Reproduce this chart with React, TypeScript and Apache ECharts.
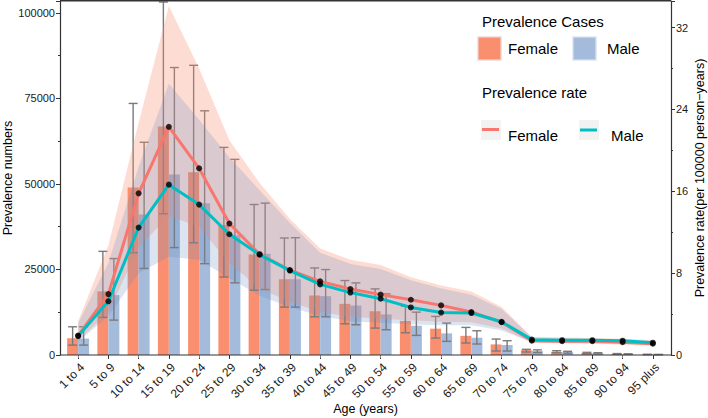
import React, { useEffect, useRef } from "react";
import * as echarts from "echarts";

const categories = [
  "1 to 4", "5 to 9", "10 to 14", "15 to 19", "20 to 24", "25 to 29", "30 to 34",
  "35 to 39", "40 to 44", "45 to 49", "50 to 54", "55 to 59", "60 to 64", "65 to 69",
  "70 to 74", "75 to 79", "80 to 84", "85 to 89", "90 to 94", "95 plus",
];

// Prevalence cases (left axis)
const femaleCases = [4900, 18600, 49000, 66800, 53400, 38000, 29400, 22150, 17400, 14950, 12800, 10000, 7700, 5600, 3100, 1450, 950, 580, 300, 150];
const maleCases = [4800, 17500, 41100, 52800, 44400, 35000, 29600, 22150, 17200, 14470, 11860, 8550, 6320, 5040, 2920, 1170, 820, 500, 250, 120];
const femaleCasesLow = [2900, 11000, 29900, 41300, 32800, 22800, 18950, 14000, 11170, 9130, 7870, 6500, 4960, 3500, 1170, 870, 650, 380, 180, 80];
const femaleCasesHigh = [8250, 30300, 73550, 103200, 84700, 60700, 44000, 34200, 25450, 21770, 19330, 14280, 11270, 8070, 4660, 1660, 1250, 780, 420, 220];
const maleCasesLow = [2900, 10200, 25300, 31400, 26700, 21100, 19150, 14000, 11170, 8840, 7380, 5730, 3990, 3210, 1170, 700, 550, 330, 160, 70];
const maleCasesHigh = [8250, 28200, 62200, 84050, 71400, 57200, 44400, 34300, 24980, 21080, 17870, 12530, 9330, 7090, 4170, 1500, 1080, 680, 350, 180];

// Prevalence rate (right axis)
const femaleRate = [1.9, 5.95, 15.8, 22.3, 18.25, 12.85, 9.85, 8.3, 7.2, 6.45, 5.9, 5.4, 4.85, 4.2, 3.2, 1.4, 1.35, 1.35, 1.25, 1.1];
const maleRate = [1.85, 5.25, 12.45, 16.65, 14.7, 11.8, 9.8, 8.25, 6.9, 6.1, 5.5, 4.65, 4.15, 4.1, 3.25, 1.5, 1.45, 1.45, 1.4, 1.2];
const femaleRateUpper = [3.3, 10.7, 22.7, 34.1, 28.0, 21.0, 16.8, 13.3, 10.4, 9.3, 8.8, 7.6, 6.8, 6.2, 4.7, 1.75, 1.7, 1.65, 1.6, 1.45];
const femaleRateLower = [1.4, 4.2, 10.5, 13.6, 12.5, 9.0, 6.5, 5.2, 4.2, 3.75, 3.55, 3.4, 3.25, 3.2, 2.6, 1.2, 1.15, 1.1, 1.0, 0.9];
const maleRateUpper = [3.1, 9.0, 18.4, 26.5, 23.0, 19.3, 16.1, 12.9, 10.0, 8.9, 8.4, 7.3, 6.5, 5.9, 4.5, 1.7, 1.65, 1.6, 1.55, 1.4];
const maleRateLower = [1.3, 3.8, 8.0, 9.6, 9.3, 7.5, 5.8, 4.7, 3.8, 3.3, 3.15, 3.0, 2.9, 2.9, 2.4, 1.25, 1.2, 1.15, 1.1, 1.0];

const leftTicks = { min: 0, max: 103500, interval: 25000 };
const rightTicks = { min: 0, max: 34.6, interval: 8 };

const FONT = "'Liberation Sans', Arial, Helvetica, sans-serif";
const FEMALE_BAR = "#F98F6F";
const MALE_BAR = "#A4BBDC";
const FEMALE_LINE = "#F8766D";
const MALE_LINE = "#00BFC4";
const ERR = "#7a7a7a";
const AXIS = "#333333";

function errorSeries(low: number[], high: number[], offset: number) {
  return {
    type: "custom",
    xAxisIndex: 0,
    yAxisIndex: 0,
    silent: true,
    data: categories.map((_, i) => [i, low[i], high[i]]),
    encode: { x: 0, y: [1, 2] },
    renderItem: (params: any, api: any) => {
      const i = api.value(0);
      const x = api.coord([i, 0])[0] + offset;
      const lo = api.coord([i, api.value(1)])[1];
      const hi = api.coord([i, api.value(2)])[1];
      const hw = 4.5;
      const style = { stroke: ERR, lineWidth: 1.4 };
      return {
        type: "group",
        children: [
          { type: "line", shape: { x1: x, y1: lo, x2: x, y2: hi }, style },
          { type: "line", shape: { x1: x - hw, y1: hi, x2: x + hw, y2: hi }, style },
          { type: "line", shape: { x1: x - hw, y1: lo, x2: x + hw, y2: lo }, style },
        ],
      };
    },
    z: 3,
  };
}

function ribbonSeries(upper: number[], lower: number[], fill: string) {
  return {
    type: "custom",
    xAxisIndex: 0,
    yAxisIndex: 1,
    silent: true,
    data: categories.map((_, i) => [i, upper[i], lower[i]]),
    encode: { x: 0, y: [1, 2] },
    renderItem: (params: any, api: any) => {
      if (params.dataIndex !== 0) return null;
      const pts: number[][] = [];
      for (let i = 0; i < categories.length; i++) pts.push(api.coord([i, upper[i]]));
      for (let i = categories.length - 1; i >= 0; i--) pts.push(api.coord([i, lower[i]]));
      return { type: "polygon", shape: { points: pts }, style: { fill } };
    },
    z: 4,
  };
}

export default function App() {
  const ref = useRef<HTMLDivElement>(null);

  useEffect(() => {
    document.body.style.margin = "0";
    if (!ref.current) return;
    const chart = echarts.init(ref.current, undefined, { renderer: "svg" });

    const axisLabelStyle = { fontSize: 11, color: "#1a1a1a", fontFamily: FONT };
    const nameStyle = { fontSize: 12.5, color: "#000", fontFamily: FONT };

    const option: any = {
      animation: false,
      textStyle: { fontFamily: FONT },
      grid: { left: 63, right: 40, top: 1, bottom: 63, containLabel: false, outerBoundsMode: "none" },
      xAxis: [
        {
          type: "category",
          data: categories,
          boundaryGap: true,
          axisLine: { show: false },
          axisTick: { show: true, alignWithLabel: true, length: 4, lineStyle: { color: AXIS, width: 1 } },
          axisLabel: {
            fontSize: 12,
            color: "#1a1a1a",
            fontFamily: FONT,
            rotate: 45,
            margin: 6,
            interval: 0,
            align: "right",
            verticalAlign: "top",
          },
          name: "Age (years)",
          nameLocation: "middle",
          nameGap: 47,
          nameMoveOverlap: false,
          nameTextStyle: nameStyle,
        },
        {
          type: "category",
          data: categories,
          position: "top",
          boundaryGap: true,
          axisLine: { show: false },
          axisTick: { show: true, inside: true, alignWithLabel: true, length: 3, lineStyle: { color: "#888", width: 1 } },
          axisLabel: { show: false },
        },
      ],
      yAxis: [
        {
          type: "value",
          ...leftTicks,
          offset: 3,
          axisLine: { show: true, lineStyle: { color: AXIS, width: 1.2 } },
          axisTick: { show: true, length: 4, lineStyle: { color: AXIS } },
          minorTick: { show: true, splitNumber: 2, length: 2, lineStyle: { color: AXIS } },
          splitLine: { show: false },
          axisLabel: { ...axisLabelStyle, margin: 5, showMaxLabel: false, formatter: (v: number) => String(v) },
          name: "Prevalence numbers",
          nameLocation: "middle",
          nameGap: 46,
          nameRotate: 90,
          nameMoveOverlap: false,
          nameTextStyle: nameStyle,
        },
        {
          type: "value",
          position: "right",
          ...rightTicks,
          offset: 3,
          axisLine: { show: true, lineStyle: { color: AXIS, width: 1.2 } },
          axisTick: { show: true, length: 4, lineStyle: { color: AXIS } },
          minorTick: { show: true, splitNumber: 2, length: 2, lineStyle: { color: AXIS } },
          splitLine: { show: false },
          axisLabel: { ...axisLabelStyle, margin: 5, showMaxLabel: false, formatter: (v: number) => String(v) },
          name: "Prevalence rate(per 100000 person\u2212years)",
          nameLocation: "middle",
          nameGap: 22,
          nameRotate: 90,
          nameMoveOverlap: false,
          nameTextStyle: nameStyle,
        },
      ],
      graphic: [
        { type: "line", shape: { x1: 60, y1: 355, x2: 671, y2: 355 }, style: { stroke: AXIS, lineWidth: 1.2 }, z: 10 },
        { type: "line", shape: { x1: 60, y1: 0.8, x2: 671, y2: 0.8 }, style: { stroke: AXIS, lineWidth: 1.4 }, z: 10 },
        // Legend: Prevalence Cases
        { type: "text", x: 482, y: 21, style: { text: "Prevalence Cases", fontSize: 15, fill: "#000", fontFamily: FONT, verticalAlign: "middle" }, z: 20 },
        { type: "rect", shape: { x: 477, y: 36, width: 25, height: 25 }, style: { fill: "#F1E4E0" }, z: 20 },
        { type: "rect", shape: { x: 478.5, y: 37.5, width: 22, height: 22 }, style: { fill: FEMALE_BAR }, z: 21 },
        { type: "text", x: 508, y: 48.5, style: { text: "Female", fontSize: 15, fill: "#000", fontFamily: FONT, verticalAlign: "middle" }, z: 20 },
        { type: "rect", shape: { x: 572, y: 36, width: 25, height: 25 }, style: { fill: "#E6EAF1" }, z: 20 },
        { type: "rect", shape: { x: 573.5, y: 37.5, width: 22, height: 22 }, style: { fill: MALE_BAR }, z: 21 },
        { type: "text", x: 607, y: 48.5, style: { text: "Male", fontSize: 15, fill: "#000", fontFamily: FONT, verticalAlign: "middle" }, z: 20 },
        // Legend: Prevalence rate
        { type: "text", x: 482, y: 92, style: { text: "Prevalence rate", fontSize: 15, fill: "#000", fontFamily: FONT, verticalAlign: "middle" }, z: 20 },
        { type: "rect", shape: { x: 481, y: 120, width: 20, height: 20 }, style: { fill: "#F2F2F2" }, z: 20 },
        { type: "line", shape: { x1: 482, y1: 129.5, x2: 499, y2: 129.5 }, style: { stroke: FEMALE_LINE, lineWidth: 3 }, z: 21 },
        { type: "text", x: 508, y: 135, style: { text: "Female", fontSize: 15, fill: "#000", fontFamily: FONT, verticalAlign: "middle" }, z: 20 },
        { type: "rect", shape: { x: 579, y: 120, width: 20, height: 20 }, style: { fill: "#F2F2F2" }, z: 20 },
        { type: "line", shape: { x1: 580, y1: 130, x2: 597, y2: 130 }, style: { stroke: MALE_LINE, lineWidth: 3 }, z: 21 },
        { type: "text", x: 611, y: 135, style: { text: "Male", fontSize: 15, fill: "#000", fontFamily: FONT, verticalAlign: "middle" }, z: 20 },
      ],
      series: [
        {
          type: "bar",
          name: "Female cases",
          xAxisIndex: 0,
          yAxisIndex: 0,
          data: femaleCases,
          barWidth: 11,
          barGap: "0%",
          itemStyle: { color: FEMALE_BAR },
          silent: true,
          z: 2,
        },
        {
          type: "bar",
          name: "Male cases",
          xAxisIndex: 0,
          yAxisIndex: 0,
          data: maleCases,
          barWidth: 11,
          barGap: "0%",
          itemStyle: { color: MALE_BAR },
          silent: true,
          z: 2,
        },
        errorSeries(femaleCasesLow, femaleCasesHigh, -5.5),
        errorSeries(maleCasesLow, maleCasesHigh, 5.5),
        ribbonSeries(femaleRateUpper, femaleRateLower, "rgba(250,140,110,0.30)"),
        ribbonSeries(maleRateUpper, maleRateLower, "rgba(103,138,190,0.23)"),
        {
          type: "line",
          name: "Female rate",
          xAxisIndex: 0,
          yAxisIndex: 1,
          data: femaleRate,
          showSymbol: false,
          symbol: "none",
          lineStyle: { color: FEMALE_LINE, width: 3 },
          silent: true,
          z: 5,
        },
        {
          type: "line",
          name: "Male rate",
          xAxisIndex: 0,
          yAxisIndex: 1,
          data: maleRate,
          showSymbol: false,
          symbol: "none",
          lineStyle: { color: MALE_LINE, width: 3 },
          silent: true,
          z: 5,
        },
        {
          type: "scatter",
          xAxisIndex: 0,
          yAxisIndex: 1,
          data: femaleRate,
          symbolSize: 6,
          itemStyle: { color: "#000" },
          silent: true,
          z: 6,
        },
        {
          type: "scatter",
          xAxisIndex: 0,
          yAxisIndex: 1,
          data: maleRate,
          symbolSize: 6,
          itemStyle: { color: "#000" },
          silent: true,
          z: 6,
        },
      ],
    };

    chart.setOption(option);
    return () => chart.dispose();
  }, []);

  return <div ref={ref} style={{ width: 708, height: 418 }} />;
}
